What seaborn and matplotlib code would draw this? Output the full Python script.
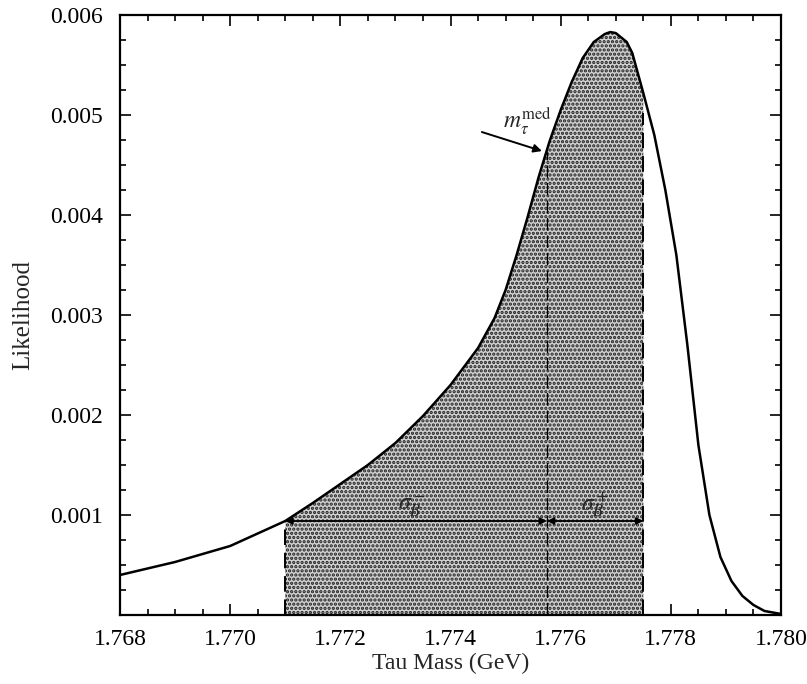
import numpy as np
import pandas as pd
import matplotlib
matplotlib.use('Agg')
import matplotlib.pyplot as plt
import seaborn as sns
from matplotlib.ticker import FixedLocator, MultipleLocator

# likelihood curve
mass = [1.7680, 1.7690, 1.7700, 1.7710, 1.7715, 1.7720, 1.7725, 1.7730,
        1.7735, 1.7740, 1.7745, 1.7748, 1.7750, 1.7752, 1.7754, 1.7756,
        1.7758, 1.7760, 1.7762, 1.7764, 1.7766, 1.7768, 1.7769, 1.7770,
        1.7772, 1.7773, 1.7775, 1.7777, 1.7779, 1.7781, 1.7783, 1.7785,
        1.7787, 1.7789, 1.7791, 1.7793, 1.7795, 1.7797, 1.7800]
likelihood = [0.00040, 0.00053, 0.00069, 0.00094, 0.00112, 0.00131, 0.00150, 0.00172,
              0.00199, 0.00230, 0.00267, 0.00297, 0.00325, 0.00360, 0.00398, 0.00438,
              0.00474, 0.00505, 0.00533, 0.00557, 0.00573, 0.00581, 0.00583, 0.00582,
              0.00573, 0.00562, 0.00522, 0.00480, 0.00425, 0.00360, 0.00270, 0.00170,
              0.00100, 0.00058, 0.00034, 0.00019, 0.00010, 0.00004, 0.00001]

x_ticks = [1.768, 1.770, 1.772, 1.774, 1.776, 1.778, 1.780]
x_labels = ['1.768', '1.770', '1.772', '1.774', '1.776', '1.778', '1.780']
y_ticks = [0.001, 0.002, 0.003, 0.004, 0.005, 0.006]
y_labels = ['0.001', '0.002', '0.003', '0.004', '0.005', '0.006']

# interval limits and median
m_low = 1.7710
m_med = 1.77575
m_high = 1.7775
arrow_level = 0.00094
med_height = 0.00464

df = pd.DataFrame({'mass': mass, 'L': likelihood})

sns.set_theme(style='ticks')
plt.rcParams['font.family'] = ['Liberation Serif', 'DejaVu Serif']
plt.rcParams['mathtext.fontset'] = 'stix'
plt.rcParams['hatch.linewidth'] = 1.6

fig = plt.figure(figsize=(8.07, 6.84), dpi=100)
ax = fig.add_axes([0.1487, 0.1009, 0.8191, 0.8771])

# shaded interval
sel = df[(df['mass'] >= m_low) & (df['mass'] <= m_high)]
ax.fill_between(sel['mass'], 0, sel['L'], facecolor='#d0d0d0', edgecolor='#202020',
                hatch='....', linewidth=0)

sns.lineplot(data=df, x='mass', y='L', color='black', linewidth=1.8, ax=ax)

lo_h = df.loc[df['mass'] == m_low, 'L'].iloc[0]
hi_h = df.loc[df['mass'] == m_high, 'L'].iloc[0]
ax.plot([m_low, m_low], [0, lo_h], color='black', ls=(0, (8, 4)), lw=1.4)
ax.plot([m_high, m_high], [0, hi_h - 0.0002], color='black', ls=(0, (8, 4)), lw=1.4)
ax.plot([m_med, m_med], [0, med_height], color='black', ls=(0, (10, 4)), lw=0.9)

# sigma arrows
ap = dict(arrowstyle='<|-|>', color='black', lw=1.3, mutation_scale=10, shrinkA=0, shrinkB=0)
ax.annotate('', xy=(m_low, arrow_level), xytext=(m_med, arrow_level), arrowprops=ap)
ax.annotate('', xy=(m_med, arrow_level), xytext=(m_high, arrow_level), arrowprops=ap)
ax.text(1.7733, arrow_level + 0.00002, r'$\sigma_B^-$', fontsize=17, ha='center', va='bottom')
ax.text(1.77662, arrow_level + 0.00002, r'$\sigma_B^+$', fontsize=17, ha='center', va='bottom')

# median label
ax.annotate('', xy=(1.77566, 0.00464), xytext=(1.77457, 0.00483),
            arrowprops=dict(arrowstyle='-|>', color='black', lw=1.4, mutation_scale=12,
                            shrinkA=0, shrinkB=0))
ax.text(1.77495, 0.00478, r'$m_\tau^{\rm med}$', fontsize=17, ha='left', va='bottom')

ax.set_xlim(1.768, 1.780)
ax.set_ylim(0, 0.006)
ax.xaxis.set_major_locator(FixedLocator(x_ticks))
ax.xaxis.set_minor_locator(MultipleLocator(0.0005))
ax.yaxis.set_major_locator(FixedLocator(y_ticks))
ax.yaxis.set_minor_locator(MultipleLocator(0.00025))
ax.set_xticklabels(x_labels)
ax.set_yticklabels(y_labels)
ax.tick_params(which='both', direction='in', top=True, right=True, labelsize=17,
               width=1.2, colors='black')
ax.tick_params(which='major', length=8)
ax.tick_params(which='minor', length=4)
ax.tick_params(axis='y', pad=12)
ax.tick_params(axis='x', pad=10)
for s in ax.spines.values():
    s.set_linewidth(1.6)
    s.set_color('black')

ax.set_xlabel('Tau Mass (GeV)', fontsize=17, labelpad=2)
ax.set_ylabel('Likelihood', fontsize=18, labelpad=12)

fig.savefig('out.png', dpi=100)
